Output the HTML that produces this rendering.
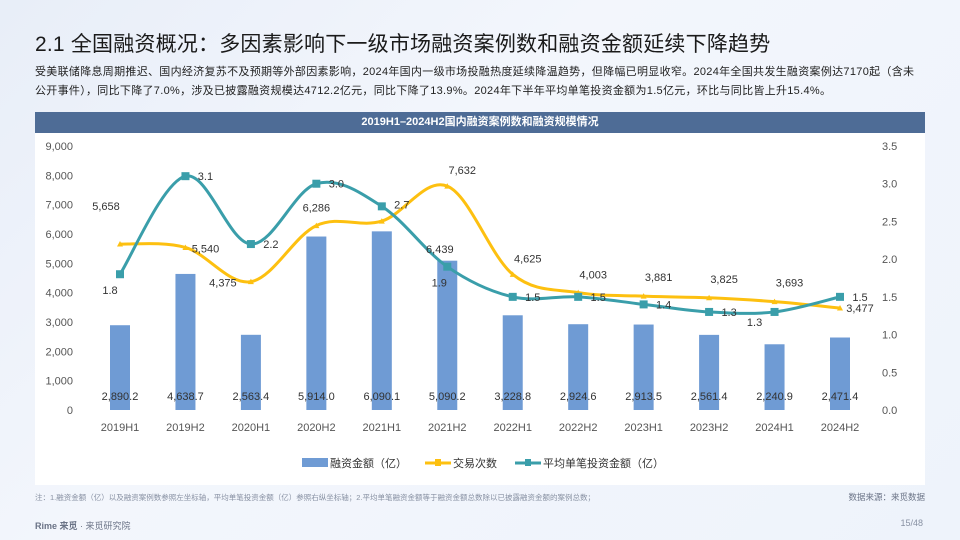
<!DOCTYPE html>
<html><head><meta charset="utf-8">
<style>
body{margin:0;width:960px;height:540px;overflow:hidden;background:linear-gradient(135deg,#e8eef8,#f3f6fc 40%,#eef3fb);font-family:"Liberation Sans","Noto Sans CJK SC",sans-serif;position:relative}
.title{position:absolute;left:35px;top:28px;font-size:21px;color:#1a1a1a;letter-spacing:0.2px}
.desc{position:absolute;left:35px;top:63px;width:920px;font-size:11px;line-height:19px;color:#222;letter-spacing:0.3px;white-space:nowrap}
.panel{position:absolute;left:35px;top:112px;width:890px;height:373px;background:#fff}
.phead{height:21px;background:#4e6c96;color:#fff;font-size:11px;font-weight:bold;text-align:center;line-height:21px}
.note{position:absolute;left:35px;top:492px;font-size:7.5px;color:#8891a3}
.src{position:absolute;right:35px;top:491px;font-size:8.5px;color:#6a7386}
.brand{position:absolute;left:35px;top:519px;font-size:9px;color:#6a7386}
.page{position:absolute;right:37px;top:518px;font-size:9px;color:#8891a3}
</style></head><body>
<div class="title">2.1 全国融资概况：多因素影响下一级市场融资案例数和融资金额延续下降趋势</div>
<div class="desc">受美联储降息周期推迟、国内经济复苏不及预期等外部因素影响，2024年国内一级市场投融热度延续降温趋势，但降幅已明显收窄。2024年全国共发生融资案例达7170起（含未<br>公开事件），同比下降了7.0%，涉及已披露融资规模达4712.2亿元，同比下降了13.9%。2024年下半年平均单笔投资金额为1.5亿元，环比与同比皆上升15.4%。</div>
<div class="panel">
<div class="phead">2019H1–2024H2国内融资案例数和融资规模情况</div>
</div>
<svg id="chart" width="960" height="540" style="position:absolute;left:0;top:0"></svg>
<div class="note">注：1.融资金额（亿）以及融资案例数参照左坐标轴，平均单笔投资金额（亿）参照右纵坐标轴；2.平均单笔融资金额等于融资金额总数除以已披露融资金额的案例总数；</div>
<div class="src">数据来源：来觅数据</div>
<div class="brand"><b>Rime 来觅</b> · 来觅研究院</div>
<div class="page">15/48</div>
<script>
const categories=["2019H1","2019H2","2020H1","2020H2","2021H1","2021H2","2022H1","2022H2","2023H1","2023H2","2024H1","2024H2"];
const amounts=[2890.2,4638.7,2563.4,5914.0,6090.1,5090.2,3228.8,2924.6,2913.5,2561.4,2240.9,2471.4];
const counts=[5658,5540,4375,6286,6439,7632,4625,4003,3881,3825,3693,3477];
const avgs=[1.8,3.1,2.2,3.0,2.7,1.9,1.5,1.5,1.4,1.3,1.3,1.5];
const leftTicks=[0,1000,2000,3000,4000,5000,6000,7000,8000,9000];
const rightTicks=[0,0.5,1.0,1.5,2.0,2.5,3.0,3.5];
// label offsets (layout only)
const cOff=[[-14,-34],[20,5],[-28,5],[0,-14],[58,32],[15,-12],[15,-12],[15,-14],[15,-15],[15,-15],[15,-15],[20,4]];
const aOff=[[-10,20],[20,4],[20,4],[20,4],[20,2],[-8,20],[20,4],[20,4],[20,4],[20,4],[-20,14],[20,4]];
const svg=document.getElementById('chart');const NS='http://www.w3.org/2000/svg';
const y0=410,yTop=146,xa=120,step=(840-120)/11;
const x=i=>xa+i*step, yL=v=>y0-(v/9000)*(y0-yTop), yR=v=>y0-(v/3.5)*(y0-yTop);
function mk(t,a,parent){const e=document.createElementNS(NS,t);for(const k in a)e.setAttribute(k,a[k]);(parent||svg).appendChild(e);return e;}
function txt(s,xx,yy,anchor,size,fill){const e=mk('text',{x:xx,y:yy,'text-anchor':anchor,'font-size':size,fill:fill,'font-family':'Liberation Sans, Noto Sans CJK SC, sans-serif'});e.textContent=s;return e;}
leftTicks.forEach(v=>{const t=txt(v.toLocaleString('en-US'),73,yL(v)+4,'end',11,'#555');

});
rightTicks.forEach(v=>{const t=txt(v.toFixed(1),882,yR(v)+4,'start',11,'#555');

});
categories.forEach((c,i)=>{const t=txt(c,x(i),431,'middle',11,'#555');

});
amounts.forEach((v,i)=>{const r=mk('rect',{x:x(i)-10,y:yL(v),width:20,height:y0-yL(v),fill:'#6f9bd4'});


const t=txt(v.toLocaleString('en-US',{minimumFractionDigits:1,maximumFractionDigits:1}),x(i),400,'middle',11,'#333');

});
function smooth(pts){let d='M'+pts[0][0]+','+pts[0][1];for(let i=0;i<pts.length-1;i++){const p0=pts[i-1]||pts[i],p1=pts[i],p2=pts[i+1],p3=pts[i+2]||p2;const t=0.17;
d+=' C'+(p1[0]+(p2[0]-p0[0])*t)+','+(p1[1]+(p2[1]-p0[1])*t)+' '+(p2[0]-(p3[0]-p1[0])*t)+','+(p2[1]-(p3[1]-p1[1])*t)+' '+p2[0]+','+p2[1];}return d;}
const cp=counts.map((v,i)=>[x(i),yL(v)]);const ap=avgs.map((v,i)=>[x(i),yR(v)]);
const l1=mk('path',{d:smooth(cp),fill:'none',stroke:'#fdc010','stroke-width':3});


const l2=mk('path',{d:smooth(ap),fill:'none',stroke:'#3a9eaa','stroke-width':3});


cp.forEach((p,i)=>{const m=mk('path',{d:`M${p[0]-3},${p[1]+2.5} L${p[0]+3},${p[1]+2.5} L${p[0]},${p[1]-3} Z`,fill:'#fdc010'});


const t=txt(counts[i].toLocaleString('en-US'),p[0]+cOff[i][0],p[1]+cOff[i][1],'middle',11,'#333');

});
ap.forEach((p,i)=>{const m=mk('rect',{x:p[0]-4,y:p[1]-4,width:8,height:8,fill:'#3a9eaa'});


const t=txt(avgs[i].toFixed(1),p[0]+aOff[i][0],p[1]+aOff[i][1],'middle',11,'#333');

});
const lg=[[302,'rect','#6f9bd4','融资金额（亿）'],[425,'line','#fdc010','交易次数'],[515,'line','#3a9eaa','平均单笔投资金额（亿）']];
lg.forEach(l=>{const g=mk('g',{});


if(l[1]=='rect')mk('rect',{x:l[0],y:458,width:26,height:9,fill:l[2]},g);else{mk('line',{x1:l[0],y1:463,x2:l[0]+26,y2:463,stroke:l[2],'stroke-width':3},g);mk('rect',{x:l[0]+10,y:459,width:6,height:7,fill:l[2]},g);}
g.appendChild(txt(l[3],l[0]+28,467,'start',11,'#333'));});
</script>
</body></html>
